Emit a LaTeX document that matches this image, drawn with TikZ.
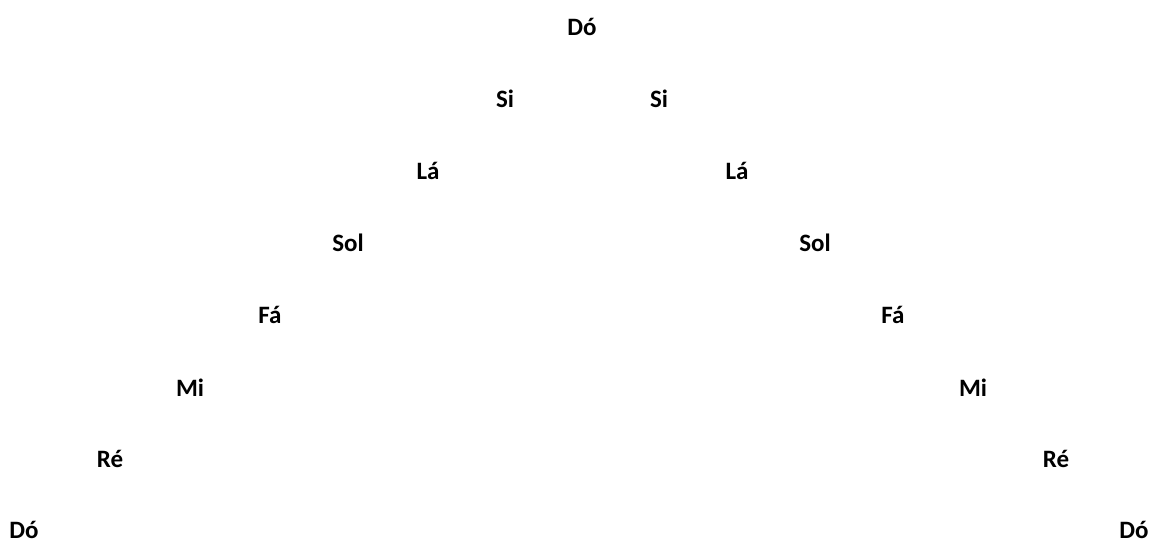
\documentclass[tikz,border=0pt]{standalone}
\usepackage{fontspec}
\setmainfont{Carlito}
\begin{document}
\begin{tikzpicture}[x=1pt,y=1pt,
  note/.style={anchor=base,inner sep=0pt,font=\fontsize{25}{29}\selectfont\bfseries}]
\useasboundingbox (0,0) rectangle (1153,-544);
\node[note] (d0) at (582,-35) {Dó};
\node[note] (siL) at (505,-107.5) {Si};
\node[note] (siR) at (659,-107.5) {Si};
\node[note] (laL) at (428,-179.5) {Lá};
\node[note] (laR) at (737,-179.5) {Lá};
\node[note] (solL) at (348,-251.5) {Sol};
\node[note] (solR) at (815,-251.5) {Sol};
\node[note] (faL) at (270,-323) {Fá};
\node[note] (faR) at (893,-323) {Fá};
\node[note] (miL) at (190,-396) {Mi};
\node[note] (miR) at (973,-396) {Mi};
\node[note] (reL) at (110,-467.5) {Ré};
\node[note] (reR) at (1056,-467.5) {Ré};
\node[note] (dL) at (24,-538) {Dó};
\node[note] (dR) at (1134,-538) {Dó};
\end{tikzpicture}
\end{document}
